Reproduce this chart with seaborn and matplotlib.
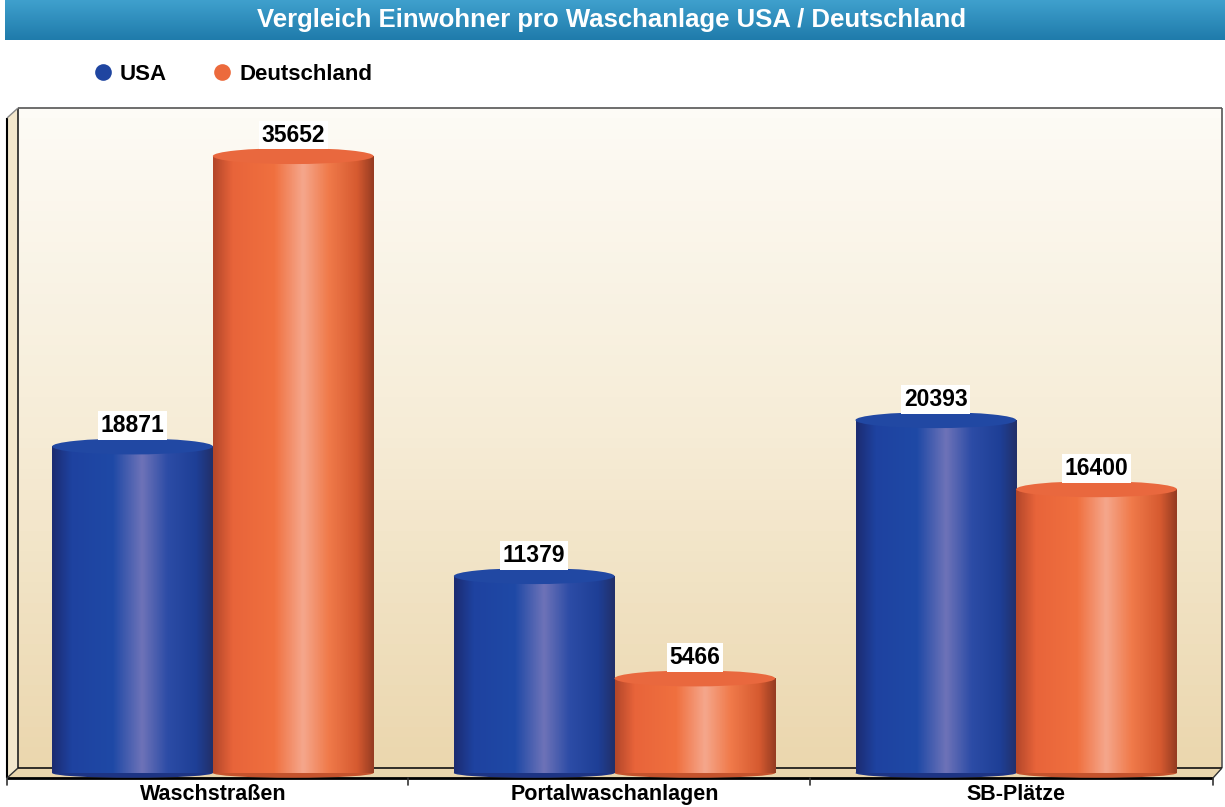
import numpy as np
import pandas as pd
import matplotlib
matplotlib.use('Agg')
import matplotlib.pyplot as plt
import seaborn as sns
from matplotlib.colors import LinearSegmentedColormap, to_rgba
from matplotlib.patches import Ellipse, Polygon
from matplotlib.lines import Line2D

# Daten
anlagen = ['Waschstraßen', 'Portalwaschanlagen', 'SB-Plätze']
usa = [18871, 11379, 20393]
deutschland = [35652, 5466, 16400]
laender = ['USA', 'Deutschland']
farben = {'USA': '#1f45a0', 'Deutschland': '#ec6a3c'}

df = pd.DataFrame({
    'Anlage': anlagen * 2,
    'Land': ['USA'] * 3 + ['Deutschland'] * 3,
    'Einwohner': usa + deutschland,
})

sns.set_theme(style='white')
plt.rcParams['font.family'] = ['Liberation Sans', 'DejaVu Sans']
plt.rcParams['text.color'] = 'black'

W, H = 1225, 807
fig = plt.figure(figsize=(W / 100, H / 100), dpi=100)
fig.patch.set_facecolor('white')

# Hintergrund-Achse in Pixelkoordinaten
bg = fig.add_axes([0, 0, 1, 1], zorder=0)
bg.axis('off')

# Titelleiste
vgrad = np.linspace(0, 1, 64).reshape(-1, 1)
title_cmap = LinearSegmentedColormap.from_list('titel', ['#3fa0cd', '#1f7bab'])
bg.imshow(vgrad, cmap=title_cmap, extent=(5, W, 40, 0), aspect='auto')
bg.text(612, 20, 'Vergleich Einwohner pro Waschanlage USA / Deutschland',
        color='white', fontsize=18.5, fontweight='bold', ha='center', va='center')

# 3D-Rahmen: Rueckwand, Seitenwand, Boden
wall_cmap = LinearSegmentedColormap.from_list('wand', ['#fdfbf6', '#f6ecd6', '#ebd7ae'])
bg.imshow(vgrad, cmap=wall_cmap, extent=(18, 1222, 768, 108), aspect='auto')
bg.add_patch(Polygon([(7, 118), (18, 108), (18, 768), (7, 778)], closed=True,
                     facecolor='#f3e7cc', edgecolor='none'))
bg.add_patch(Polygon([(7, 778), (18, 768), (1222, 768), (1213, 778)], closed=True,
                     facecolor='#ead6ad', edgecolor='none'))
for xs, ys, c, lw in [
    ([18, 18], [108, 768], '#222222', 1.2),
    ([18, 1222], [108, 108], '#555555', 1.2),
    ([1222, 1222], [108, 768], '#555555', 1.2),
    ([18, 1222], [768, 768], '#111111', 1.2),
    ([7, 1213], [778, 778], '#000000', 2.0),
    ([7, 7], [118, 778], '#000000', 1.5),
    ([7, 18], [118, 108], '#888888', 1.0),
    ([7, 18], [778, 768], '#333333', 1.0),
    ([1213, 1222], [778, 768], '#333333', 1.0),
]:
    bg.plot(xs, ys, color=c, lw=lw, solid_capstyle='butt')
for tx in [7, 408, 810, 1213]:
    bg.plot([tx, tx], [778, 785], color='#333333', lw=1.2)
bg.set_xlim(0, W)
bg.set_ylim(H, 0)

# Diagramm-Achse
ax = fig.add_axes([12 / W, (H - 773) / H, 1205 / W, 660 / H], zorder=1)
ax.patch.set_alpha(0)
sns.barplot(data=df, x='Anlage', y='Einwohner', hue='Land', hue_order=laender,
            order=anlagen, palette=farben, width=0.8, saturation=1,
            legend=False, ax=ax)

ymax = 38140
ell_h = 16 * ymax / 660

verlauf = {
    'USA': LinearSegmentedColormap.from_list('usa', [
        (0.0, '#1c2c72'), (0.12, '#1e42a0'), (0.38, '#1f49a6'),
        (0.56, '#6e73b8'), (0.72, '#2c4ca6'), (0.9, '#1e3f96'), (1.0, '#22306a')]),
    'Deutschland': LinearSegmentedColormap.from_list('de', [
        (0.0, '#b4472a'), (0.12, '#e8643a'), (0.38, '#f0703f'),
        (0.56, '#f5a78c'), (0.72, '#f07a4a'), (0.9, '#d65a30'), (1.0, '#963c22')]),
}
deckel = {'USA': '#2148a3', 'Deutschland': '#e9683e'}
boden = {'USA': '#1d3484', 'Deutschland': '#c4532d'}

hgrad = np.linspace(0, 1, 200).reshape(1, -1)
for bar in list(ax.patches):
    x0, w, h = bar.get_x(), bar.get_width(), bar.get_height()
    fc = bar.get_facecolor()
    land = 'USA' if np.allclose(fc, to_rgba(farben['USA'])) else 'Deutschland'
    cx = x0 + w / 2
    bar.set_visible(False)
    ax.add_patch(Ellipse((cx, 0), w, ell_h * 0.6, facecolor=boden[land],
                         edgecolor='none', zorder=1.9, clip_on=False))
    ax.imshow(hgrad, cmap=verlauf[land], extent=(x0, x0 + w, 0, h),
              aspect='auto', zorder=2)
    ax.add_patch(Ellipse((cx, h), w, ell_h, facecolor=deckel[land],
                         edgecolor='none', zorder=3))
    ax.annotate(f'{int(round(h))}', (cx, h), xytext=(0, 15), textcoords='offset points',
                ha='center', va='center', fontsize=16.5, fontweight='bold', color='black',
                bbox=dict(boxstyle='square,pad=0.12', fc='white', ec='none'), zorder=4)

ax.set_xlim(-0.5, 2.5)
ax.set_ylim(0, ymax)
ax.set_yticks([])
ax.set_xlabel('')
ax.set_ylabel('')
for s in ax.spines.values():
    s.set_visible(False)
ax.tick_params(axis='x', length=0, pad=8)
for lab in ax.get_xticklabels():
    lab.set_fontsize(15.5)
    lab.set_fontweight('bold')
    lab.set_color('black')

# Legende
handles = [Line2D([], [], marker='o', linestyle='none', markersize=12,
                  markerfacecolor=farben[l], markeredgecolor='none') for l in laender]
fig.legend(handles, laender, loc='center left', bbox_to_anchor=(72 / W, 1 - 74 / H),
           ncol=2, frameon=False, handlelength=1.0, handletextpad=0.25, columnspacing=2.0,
           labelcolor='black', prop={'weight': 'bold', 'size': 16})

fig.savefig('out.png', dpi=100)
